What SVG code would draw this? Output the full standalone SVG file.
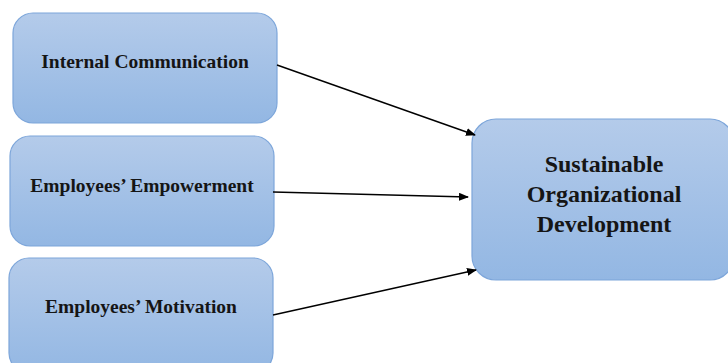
<svg xmlns="http://www.w3.org/2000/svg" width="728" height="363" viewBox="0 0 728 363">
<defs>
<linearGradient id="g" x1="0" y1="0" x2="0" y2="1">
<stop offset="0" stop-color="#b4cbea"/>
<stop offset="1" stop-color="#93b7e3"/>
</linearGradient>
<marker id="ah" markerWidth="10" markerHeight="8" refX="9" refY="4" orient="auto" markerUnits="userSpaceOnUse">
<path d="M0,0 L10,4 L0,8 z" fill="#000"/>
</marker>
<style>
.box{fill:url(#g);stroke:#7da6da;stroke-width:1.2}
.t{font-family:"Liberation Serif","Times New Roman",serif;font-weight:bold;fill:#151515;text-anchor:middle}
.s{font-size:19.5px}
.b{font-size:24px}
.c{stroke:#000;stroke-width:1.4;fill:none;marker-end:url(#ah)}
</style>
</defs>
<rect width="728" height="363" fill="#fff"/>
<g id="node-internal">
<rect class="box" x="13" y="13" width="264" height="110" rx="20"/>
<text class="t s" x="145" y="68">Internal Communication</text>
</g>
<g id="node-empowerment">
<rect class="box" x="10" y="136" width="264" height="110" rx="20"/>
<text class="t s" x="142" y="192">Employees’ Empowerment</text>
</g>
<g id="node-motivation">
<rect class="box" x="9" y="258" width="264" height="115" rx="20"/>
<text class="t s" x="141" y="313">Employees’ Motivation</text>
</g>
<g id="node-sod">
<rect class="box" x="472" y="119" width="262" height="161" rx="24"/>
<text class="t b" x="604" y="172">Sustainable</text>
<text class="t b" x="604" y="202">Organizational</text>
<text class="t b" x="604" y="232">Development</text>
</g>
<g id="connectors">
<line class="c" x1="277" y1="65" x2="475" y2="135"/>
<line class="c" x1="273" y1="192" x2="468" y2="197"/>
<line class="c" x1="273" y1="315" x2="476" y2="270"/>
</g>
</svg>
